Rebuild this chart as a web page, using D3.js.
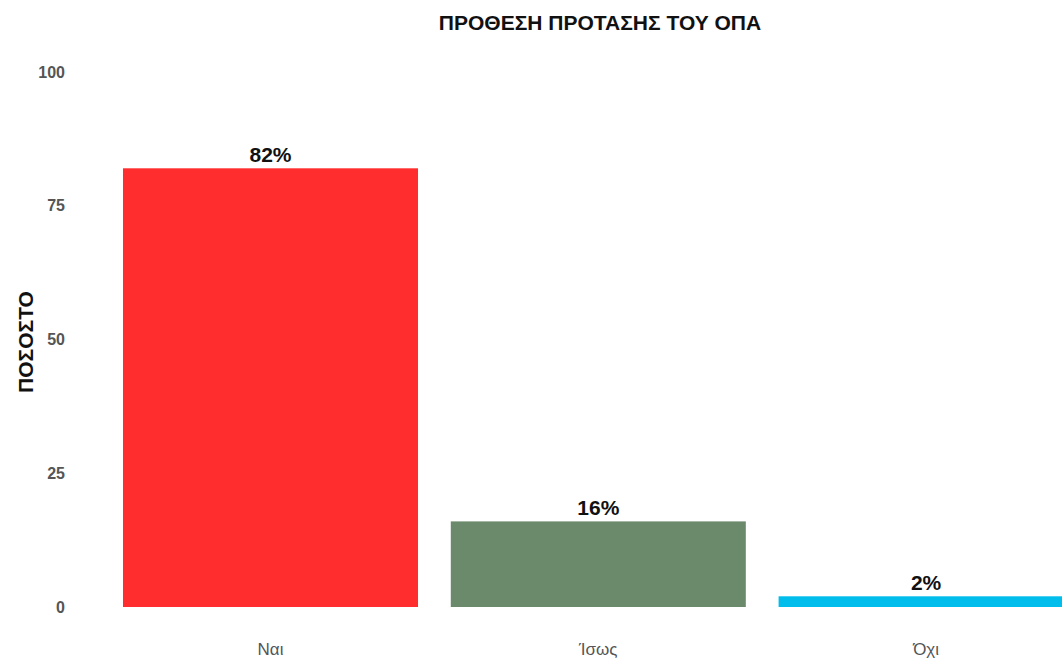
<!DOCTYPE html>
<html>
<head>
<meta charset="utf-8">
<script src="https://cdn.jsdelivr.net/npm/d3@7"></script>
<style>
  body { margin: 0; background: #fff; }
  svg { display: block; font-family: "Liberation Sans", Arial, sans-serif; }
</style>
</head>
<body>
<div id="chart"></div>
<script>
const categories = ["Ναι", "Ίσως", "Όχι"];
const values = [82, 16, 2];
const colors = ["#ff2d2d", "#6b8a6b", "#00bdec"];
const yTicks = [0, 25, 50, 75, 100];

const width = 1062, height = 662;

const svg = d3.select("#chart").append("svg")
    .attr("width", width)
    .attr("height", height);

// band runs past the right edge, the last bar gets cut like the original
const x = d3.scaleBand()
    .domain(categories)
    .range([106.6, 1090])
    .paddingInner(0.1)
    .paddingOuter(0.05);

const y = d3.scaleLinear()
    .domain([0, 100])
    .range([607, 72]);

// title
svg.append("text")
    .attr("x", 600)
    .attr("y", 30)
    .attr("text-anchor", "middle")
    .style("font-size", "21px")
    .style("font-weight", "bold")
    .style("fill", "#111")
    .text("ΠΡΟΘΕΣΗ ΠΡΟΤΑΣΗΣ ΤΟΥ ΟΠΑ");

// y axis (labels only)
const yAxis = svg.append("g")
    .attr("transform", "translate(65,0)")
    .call(d3.axisLeft(y).tickValues(yTicks).tickSize(0).tickPadding(0));
yAxis.select(".domain").remove();
yAxis.selectAll("text")
    .style("font-size", "16px")
    .style("font-weight", "bold")
    .style("fill", "#555")
    .style("font-family", "'Liberation Sans', Arial, sans-serif");

svg.append("text")
    .attr("transform", "translate(33,342) rotate(-90)")
    .attr("text-anchor", "middle")
    .style("font-size", "21px")
    .style("font-weight", "bold")
    .style("fill", "#111")
    .text("ΠΟΣΟΣΤΟ");

// bars
svg.append("g").selectAll("rect")
    .data(categories)
    .join("rect")
    .attr("x", d => x(d))
    .attr("width", x.bandwidth())
    .attr("y", (d, i) => y(values[i]))
    .attr("height", (d, i) => y(0) - y(values[i]))
    .attr("fill", (d, i) => colors[i]);

// value labels
svg.append("g").selectAll("text")
    .data(categories)
    .join("text")
    .attr("x", d => x(d) + x.bandwidth() / 2)
    .attr("y", (d, i) => y(values[i]) - 6)
    .attr("text-anchor", "middle")
    .style("font-size", "21px")
    .style("font-weight", "bold")
    .style("fill", "#111")
    .text((d, i) => values[i] + "%");

// x axis labels
const xAxis = svg.append("g")
    .attr("transform", "translate(0,643)")
    .call(d3.axisBottom(x).tickSize(0).tickPadding(0));
xAxis.select(".domain").remove();
xAxis.selectAll("text")
    .style("font-size", "17px")
    .style("fill", "#555")
    .style("font-family", "'Liberation Sans', Arial, sans-serif");
</script>
</body>
</html>
